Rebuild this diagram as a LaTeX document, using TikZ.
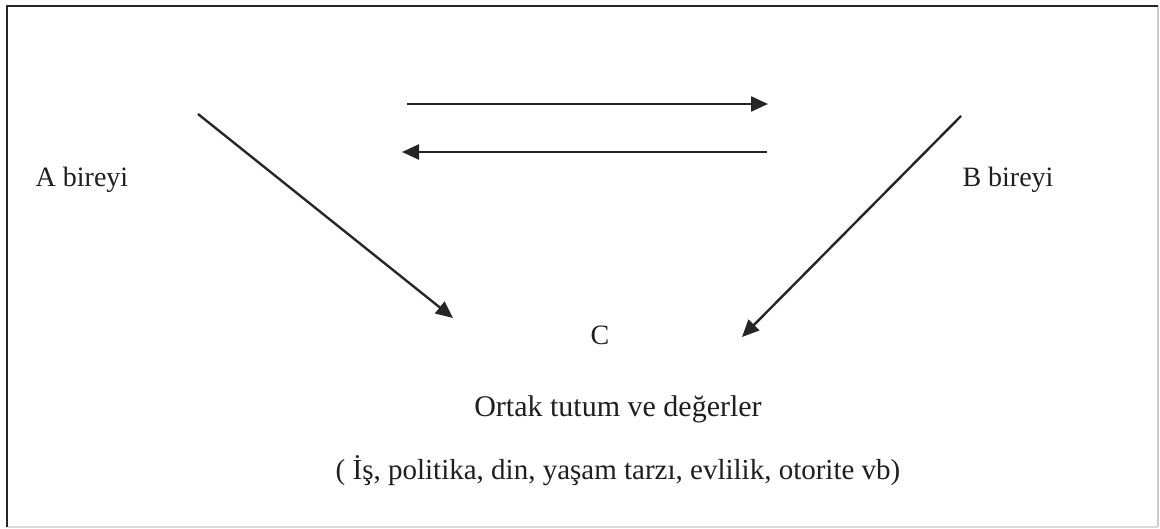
\documentclass[tikz,border=0pt]{standalone}
\usepackage{fontspec}
\setmainfont{Liberation Serif}
\usetikzlibrary{arrows.meta}
\begin{document}
\begin{tikzpicture}[x=1pt,y=-1pt,
  lbl/.style={font=\fontsize{28}{32}\selectfont, text=black!88, inner sep=0pt, anchor=center},
  arr/.style={line width=2.4pt, draw=black!85, -{Triangle[length=17pt,width=15pt]}}]
\useasboundingbox (0,0) rectangle (1160,529);
\fill[white] (0,0) rectangle (1160,529);
% frame
\draw[line width=1.4pt, black!20] (1158,6) -- (1158,527);
\draw[line width=1.4pt, black!15] (7,527) -- (1158,527);
\draw[line width=2.4pt, black!85] (7,527) -- (7,6) -- (1158,6);
% labels
\node[lbl] (A) at (82,180) {A bireyi};
\node[lbl] (B) at (1008,180) {B bireyi};
\node[lbl] (C) at (600,335) {C};
\node[lbl, font=\fontsize{30}{34}\selectfont] (O) at (618,409) {Ortak tutum ve değerler};
\node[lbl, font=\fontsize{29}{33}\selectfont] (E) at (618,471) {( İş, politika, din, yaşam tarzı, evlilik, otorite vb)};
% arrow ends
\coordinate (t1s) at (407,104);
\coordinate (t1e) at (768,104);
\coordinate (t2s) at (767,152);
\coordinate (t2e) at (402,152);
\coordinate (las) at (198,114);
\coordinate (lae) at (453,318);
\coordinate (ras) at (961,116);
\coordinate (rae) at (742,337);
\draw[arr] (t1s) -- (t1e);
\draw[arr] (t2s) -- (t2e);
\draw[arr] (las) -- (lae);
\draw[arr] (ras) -- (rae);
\end{tikzpicture}
\end{document}
